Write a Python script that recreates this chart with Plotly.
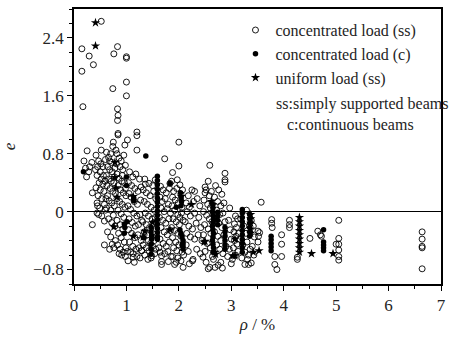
import plotly.graph_objects as go

# (rho %, e) pairs
conc_ss_points = [
    # rho 0.1-0.4
    (0.15, 2.25), (0.15, 1.94), (0.29, 2.15), (0.37, 2.03), (0.17, 1.45), (0.19, 0.70), (0.25, 0.84),
    (0.34, 0.68), (0.24, 0.48), (0.35, 0.26), (0.35, -0.18), (0.30, 0.62), (0.28, 0.55), (0.22, 0.60),
    (0.52, 2.63), (0.51, 0.98),
    # rho 0.4-0.6
    (0.42, 0.78), (0.45, 0.62), (0.47, 0.70), (0.50, 0.55), (0.44, 0.50), (0.52, 0.45), (0.48, 0.40),
    (0.55, 0.38), (0.42, 0.33), (0.50, 0.30), (0.57, 0.28), (0.46, 0.22), (0.53, 0.18), (0.44, 0.12),
    (0.58, 0.10), (0.49, 0.05), (0.44, -0.02), (0.47, -0.04), (0.58, -0.13), (0.58, -0.46), (0.55, 0.62),
    (0.60, 0.72), (0.52, 0.85), (0.41, 0.58), (0.56, 0.50), (0.59, 0.42), (0.45, 0.08), (0.53, -0.06),
    (0.60, 0.02), (0.51, 0.66),
    # rho 0.6-0.8
    (0.74, 1.70), (0.76, 2.18), (0.75, 0.96), (0.74, 0.90), (0.62, 0.82), (0.66, 0.75), (0.70, 0.80),
    (0.72, 0.68), (0.64, 0.62), (0.68, 0.58), (0.73, 0.55), (0.78, 0.60), (0.62, 0.50), (0.66, 0.45),
    (0.71, 0.42), (0.76, 0.40), (0.63, 0.36), (0.69, 0.32), (0.74, 0.28), (0.79, 0.25), (0.64, 0.22),
    (0.67, 0.15), (0.72, 0.12), (0.77, 0.08), (0.62, 0.05), (0.70, 0.02), (0.75, -0.05), (0.66, -0.10),
    (0.72, -0.15), (0.78, -0.20), (0.64, -0.28), (0.70, -0.35), (0.73, -0.45), (0.76, -0.50),
    (0.68, -0.52), (0.79, -0.40), (0.61, 0.18), (0.77, 0.48), (0.68, 0.70), (0.80, 0.85),
    # rho 0.8-1.0
    (0.83, 2.28), (0.83, 1.42), (0.84, 1.33), (0.83, 1.26), (0.84, 1.08), (0.84, 1.06), (0.97, 0.92),
    (1.00, 2.14), (1.00, 2.12), (1.00, 1.79), (1.00, 1.60), (1.02, 0.99),
    (0.82, 0.80), (0.86, 0.74), (0.90, 0.70), (0.95, 0.78), (0.88, 0.62), (0.93, 0.58), (0.98, 0.64),
    (0.82, 0.52), (0.86, 0.46), (0.91, 0.42), (0.96, 0.40), (0.84, 0.36), (0.89, 0.30), (0.94, 0.26),
    (0.99, 0.22), (0.82, 0.18), (0.87, 0.14), (0.92, 0.10), (0.97, 0.06), (0.84, 0.02), (0.90, -0.03),
    (0.95, -0.08), (0.82, -0.12), (0.88, -0.18), (0.93, -0.24), (0.85, -0.30), (0.90, -0.36),
    (0.96, -0.42), (0.83, -0.46), (0.88, -0.52), (0.94, -0.56), (0.98, -0.62), (0.91, -0.60),
    (0.86, -0.58), (0.99, -0.50), (0.81, 0.66), (0.92, 0.50), (0.98, 0.32),
    # rho 1.0-1.3
    (1.20, 1.10), (1.20, 1.05), (1.20, 0.85), (1.06, 0.55), (1.12, 0.48), (1.18, 0.52), (1.25, 0.45),
    (1.04, 0.40), (1.10, 0.36), (1.16, 0.32), (1.22, 0.28), (1.28, 0.34), (1.05, 0.25), (1.09, 0.20),
    (1.15, 0.14), (1.21, 0.10), (1.27, 0.16), (1.03, 0.08), (1.08, 0.03), (1.14, -0.02), (1.20, -0.06),
    (1.26, -0.04), (1.05, -0.10), (1.11, -0.15), (1.17, -0.20), (1.23, -0.18), (1.29, -0.12),
    (1.04, -0.25), (1.10, -0.30), (1.16, -0.36), (1.22, -0.32), (1.28, -0.40), (1.06, -0.42),
    (1.12, -0.48), (1.18, -0.52), (1.24, -0.50), (1.03, -0.68), (1.13, -0.63), (1.13, -0.58),
    (1.29, -0.54), (1.08, -0.56), (1.20, -0.62), (1.26, -0.64), (1.15, -0.70), (1.02, -0.55),
    # rho 1.3-1.6
    (1.35, 0.45), (1.43, 0.39), (1.50, 0.36), (1.32, 0.30), (1.38, 0.26), (1.45, 0.22), (1.52, 0.28),
    (1.56, 0.18), (1.34, 0.14), (1.40, 0.10), (1.47, 0.06), (1.53, 0.02), (1.36, -0.02), (1.42, -0.06),
    (1.49, -0.10), (1.55, -0.08), (1.31, -0.14), (1.38, -0.18), (1.44, -0.22), (1.51, -0.16),
    (1.57, -0.24), (1.34, -0.28), (1.40, -0.32), (1.46, -0.44), (1.53, -0.40), (1.32, -0.46),
    (1.38, -0.50), (1.43, -0.54), (1.50, -0.48), (1.56, -0.52), (1.29, -0.54), (1.47, -0.64),
    (1.48, -0.61), (1.41, -0.66), (1.35, -0.60), (1.54, -0.58), (1.58, -0.34), (1.36, 0.38),
    (1.55, 0.44), (1.42, -0.40),
    # rho 1.6-1.85
    (1.73, 0.73), (1.65, 0.35), (1.70, 0.30), (1.76, 0.26), (1.82, 0.32), (1.64, 0.20), (1.68, 0.14),
    (1.74, 0.18), (1.80, 0.10), (1.66, 0.05), (1.72, 0.00), (1.78, 0.04), (1.84, -0.02), (1.63, -0.08),
    (1.69, -0.12), (1.75, -0.16), (1.81, -0.10), (1.66, -0.22), (1.72, -0.28), (1.78, -0.32),
    (1.84, -0.26), (1.64, -0.38), (1.70, -0.44), (1.76, -0.48), (1.82, -0.42), (1.67, -0.61),
    (1.67, -0.69), (1.67, -0.73), (1.64, -0.56), (1.80, -0.69), (1.73, -0.58), (1.79, -0.55),
    (1.85, -0.62), (1.83, 0.39), (1.62, -0.50),
    # rho 1.85-2.1
    (2.00, 0.96), (2.00, 0.63), (1.88, 0.54), (2.02, 0.37), (1.90, 0.28), (1.96, 0.32), (2.04, 0.24),
    (1.88, 0.20), (1.93, 0.16), (1.99, 0.12), (2.06, 0.06), (1.87, 0.08), (1.92, 0.02), (1.98, -0.04),
    (2.05, -0.02), (1.89, -0.10), (1.95, -0.14), (2.01, -0.18), (2.08, -0.12), (1.86, -0.22),
    (1.92, -0.26), (1.98, -0.30), (2.04, -0.34), (1.88, -0.36), (1.94, -0.42), (2.00, -0.46),
    (2.06, -0.56), (1.90, -0.50), (1.96, -0.54), (1.92, -0.73), (2.08, -0.77), (1.98, -0.64),
    (2.04, -0.68), (1.88, -0.62), (1.95, -0.70), (2.09, -0.60), (1.86, 0.42), (2.07, 0.30),
    (1.97, 0.44), (2.02, -0.08),
    # rho 2.1-2.45
    (2.25, 0.30), (2.30, 0.28), (2.18, 0.22), (2.14, 0.12), (2.20, 0.06), (2.28, 0.14), (2.35, 0.18),
    (2.40, 0.08), (2.16, 0.00), (2.22, -0.06), (2.30, -0.02), (2.38, -0.08), (2.12, -0.14),
    (2.19, -0.20), (2.26, -0.24), (2.33, -0.16), (2.42, -0.22), (2.15, -0.30), (2.22, -0.35),
    (2.30, -0.38), (2.37, -0.32), (2.44, -0.40), (2.14, -0.46), (2.27, -0.66), (2.26, -0.68),
    (2.34, -0.52), (2.41, -0.58), (2.18, -0.55), (2.46, -0.63), (2.20, -0.72),
    # rho 2.45-2.65
    (2.59, 0.64), (2.56, 0.42), (2.50, 0.34), (2.52, 0.30), (2.50, 0.26), (2.58, 0.22), (2.62, 0.28),
    (2.48, 0.16), (2.55, 0.10), (2.60, 0.05), (2.47, 0.00), (2.53, -0.05), (2.58, -0.10), (2.63, -0.14),
    (2.49, -0.18), (2.56, -0.24), (2.61, -0.30), (2.47, -0.32), (2.54, -0.44), (2.60, -0.50),
    (2.50, -0.55), (2.56, -0.79), (2.59, -0.77), (2.64, -0.62), (2.52, -0.70),
    # rho 2.65-2.9
    (2.88, 0.53), (2.88, 0.44), (2.88, 0.41), (2.70, 0.36), (2.76, 0.30), (2.82, 0.24), (2.68, 0.20),
    (2.74, 0.14), (2.80, 0.08), (2.86, 0.12), (2.72, 0.02), (2.78, -0.04), (2.84, -0.02), (2.70, -0.10),
    (2.76, -0.16), (2.82, -0.22), (2.88, -0.14), (2.68, -0.28), (2.74, -0.34), (2.80, -0.40),
    (2.86, -0.32), (2.72, -0.46), (2.78, -0.52), (2.84, -0.58), (2.69, -0.77), (2.75, -0.74),
    (2.80, -0.70), (2.66, -0.66), (2.83, -0.78), (2.90, -0.48),
    # rho 2.9-3.15
    (3.08, -0.06), (3.06, -0.17), (3.10, -0.22), (3.05, -0.28), (3.09, -0.34), (3.06, -0.40),
    (3.11, -0.45), (3.04, -0.50), (3.08, -0.60), (2.95, -0.12), (2.98, -0.25), (3.00, -0.38),
    (2.96, -0.52), (3.02, -0.66), (3.12, -0.10), (3.14, -0.30), (2.93, -0.62), (2.97, 0.05),
    (3.13, -0.55), (3.00, -0.72),
    # rho 3.15-3.45
    (3.26, -0.73), (3.33, -0.73), (3.38, -0.71), (3.26, -0.56), (3.33, -0.60), (3.18, -0.10),
    (3.24, -0.20), (3.28, -0.30), (3.30, -0.42), (3.40, -0.48), (3.42, -0.20), (3.44, -0.35),
    (3.36, -0.52), (3.20, -0.64), (3.29, 0.02), (3.38, -0.12), (3.22, -0.46), (3.31, -0.66),
    (3.16, -0.38), (3.43, -0.60),
    # rho 3.45-4.2
    (3.57, 0.13), (3.51, -0.27), (3.52, -0.34), (3.51, -0.42), (3.54, -0.29), (3.77, -0.11),
    (3.77, -0.16), (3.78, -0.22), (3.83, -0.62), (3.83, -0.73), (3.87, -0.80), (3.96, -0.45),
    (3.96, -0.32), (3.96, -0.62), (4.11, -0.12), (4.11, -0.18), (4.11, -0.22),
    # rho 4.2-5.1
    (4.26, -0.66), (4.26, -0.63), (4.65, -0.27), (4.72, -0.34), (4.50, -0.37), (4.70, -0.32),
    (5.05, -0.12), (5.05, -0.37), (5.05, -0.45), (5.05, -0.53), (5.05, -0.62), (5.05, -0.67),
    (5.00, -0.45),
    # rho 6.6
    (6.64, -0.28), (6.64, -0.38), (6.64, -0.48), (6.64, -0.50), (6.64, -0.79),
]

conc_c_points = [
    (0.18, 0.55), (1.37, 0.77), (1.00, 0.48), (1.00, 0.36), (0.96, -0.17), (0.97, -0.22), (0.96, -0.30),
    (1.01, -0.14), (1.14, 0.19), (1.14, 0.15), (1.33, -0.36),
    (1.47, -0.22), (1.47, -0.28), (1.48, -0.33), (1.48, -0.38), (1.47, -0.45), (1.47, -0.52), (1.47, -0.59),
    (1.59, 0.49), (1.59, 0.43), (1.59, 0.37), (1.59, 0.31), (1.59, 0.25), (1.59, 0.19), (1.59, 0.13),
    (1.59, 0.07), (1.59, 0.01), (1.59, -0.05), (1.59, -0.11), (1.59, -0.17), (1.59, -0.23),
    (1.59, -0.29), (1.59, -0.35), (1.59, -0.38),
    (1.83, 0.39), (1.95, 0.06),
    (2.03, 0.26), (2.04, 0.20), (2.05, 0.14), (2.04, 0.08), (2.02, -0.25), (2.04, -0.30), (2.06, -0.35),
    (2.08, -0.40), (2.08, -0.44), (2.08, -0.48), (2.08, -0.52), (2.06, -0.46),
    (2.65, 0.10), (2.65, 0.05), (2.64, 0.00), (2.65, -0.05), (2.66, -0.10), (2.65, -0.15), (2.64, -0.20),
    (2.65, -0.25), (2.66, -0.30), (2.65, -0.35), (2.64, -0.40), (2.65, -0.45), (2.66, -0.50), (2.65, -0.56),
    (2.74, -0.01), (2.74, -0.06), (2.74, -0.12), (2.74, -0.18),
    (2.88, -0.22), (2.88, -0.28), (2.88, -0.34), (2.88, -0.40), (2.88, -0.46), (2.88, -0.52),
    (3.21, 0.03), (3.21, -0.02), (3.21, -0.08), (3.21, -0.14), (3.21, -0.20), (3.21, -0.26),
    (3.21, -0.32), (3.21, -0.38), (3.21, -0.44), (3.21, -0.50), (3.21, -0.56),
    (3.35, -0.04), (3.35, -0.10), (3.35, -0.16), (3.35, -0.22), (3.35, -0.28), (3.35, -0.34),
    (3.76, -0.34), (3.76, -0.39), (3.76, -0.44), (3.76, -0.49), (3.76, -0.54),
    (4.76, -0.25), (4.76, -0.42), (4.76, -0.46), (4.76, -0.50), (4.76, -0.54),
]

uniform_ss_points = [
    (0.41, 2.61), (0.41, 2.29), (0.78, 0.68), (0.78, 0.47), (0.80, 0.33), (0.82, 0.20), (0.76, -0.21),
    (1.13, 0.21), (1.13, -0.34), (1.35, -0.27), (1.32, -0.35), (1.50, -0.15), (2.05, 0.21),
    (1.83, -0.25), (2.24, 0.10), (2.48, -0.42), (2.50, -0.41), (2.62, 0.14), (2.65, 0.10),
    (2.69, -0.56), (2.70, -0.59), (3.03, -0.61), (3.07, -0.38), (3.07, -0.61),
    (3.37, -0.04), (3.37, -0.10), (3.37, -0.16), (3.37, -0.24), (3.37, -0.30), (3.42, -0.56), (3.53, -0.54),
    (4.30, -0.08), (4.30, -0.14), (4.30, -0.20), (4.30, -0.26), (4.30, -0.32), (4.30, -0.38),
    (4.30, -0.44), (4.30, -0.50), (4.30, -0.56),
    (4.53, -0.58), (4.94, -0.58),
]

series_names = ["concentrated load (ss)", "concentrated load (c)", "uniform load (ss)"]
x_ticks = [0, 1, 2, 3, 4, 5, 6, 7]
y_ticks = [-0.8, 0, 0.8, 1.6, 2.4]

FONT = "Liberation Serif"

fig = go.Figure()

def add(points, name, symbol, size, line_w):
    fig.add_trace(go.Scatter(
        x=[p[0] for p in points], y=[p[1] for p in points], mode="markers", name=name,
        marker=dict(symbol=symbol, size=size, color="black", line=dict(color="black", width=line_w)),
    ))

add(conc_ss_points, series_names[0], "circle-open", 6, 0.9)
add(conc_c_points, series_names[1], "circle", 5.5, 0)
add(uniform_ss_points, series_names[2], "star", 7, 0)

fig.add_annotation(x=0.545, y=0.655, xref="paper", yref="paper",
                   text="ss:simply supported beams", showarrow=False, xanchor="left",
                   font=dict(size=16, family=FONT))
fig.add_annotation(x=0.575, y=0.580, xref="paper", yref="paper",
                   text="c:continuous beams", showarrow=False, xanchor="left",
                   font=dict(size=16, family=FONT))

axis_common = dict(showline=True, linecolor="black", linewidth=1.5, mirror=True, showgrid=False,
                   ticks="outside", ticklen=5, tickwidth=1, tickcolor="black",
                   tickfont=dict(size=17, family=FONT))

fig.update_xaxes(range=[0, 7], tickvals=x_ticks, zeroline=False,
                 minor=dict(dtick=0.5, ticks="outside", ticklen=3, tickcolor="black"),
                 title=dict(text="<i>ρ</i> / %", font=dict(size=17, family=FONT), standoff=4),
                 **axis_common)
fig.update_yaxes(range=[-1.0, 2.8], tickvals=y_ticks, ticktext=["−0.8", "0", "0.8", "1.6", "2.4"],
                 zeroline=True, zerolinecolor="black", zerolinewidth=1,
                 minor=dict(dtick=0.2, ticks="outside", ticklen=3, tickcolor="black"),
                 title=dict(text="<i>e</i>", font=dict(size=17, family=FONT), standoff=14),
                 **axis_common)

fig.update_layout(
    template="simple_white",
    width=453, height=338,
    margin=dict(l=74, r=11, t=7, b=52),
    font=dict(family=FONT),
    showlegend=True,
    legend=dict(x=0.44, y=0.985, xanchor="left", yanchor="top", bgcolor="rgba(0,0,0,0)",
                font=dict(size=16, family=FONT), itemwidth=30, tracegroupgap=0),
)

fig.write_html("out.html")
